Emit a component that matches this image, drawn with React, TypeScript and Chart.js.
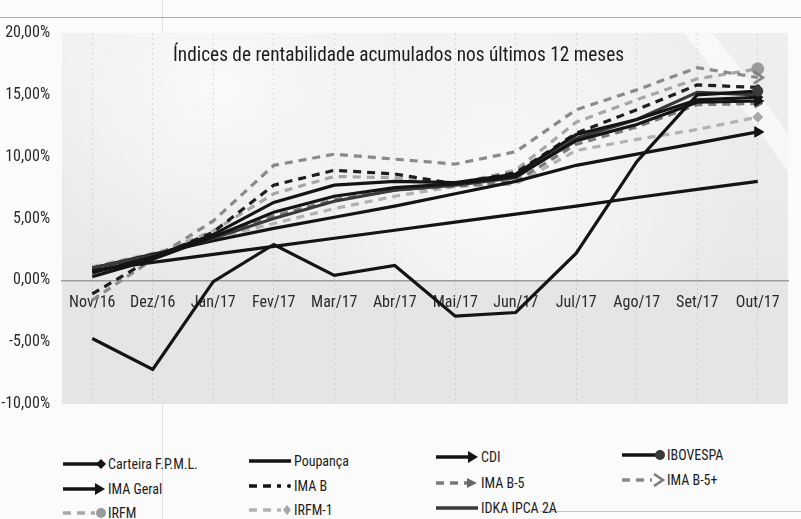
import React, { useEffect, useRef } from 'react';
import { Chart, registerables } from 'chart.js';

Chart.register(...registerables);

// ---------- data ----------
const months = ['Nov/16', 'Dez/16', 'Jan/17', 'Fev/17', 'Mar/17', 'Abr/17', 'Mai/17', 'Jun/17', 'Jul/17', 'Ago/17', 'Set/17', 'Out/17'];
const yTicks = [-10, -5, 0, 5, 10, 15, 20];
const chartTitle = 'Índices de rentabilidade acumulados nos últimos 12 meses';

const carteira = [0.6, 1.9, 3.7, 6.3, 7.7, 8.0, 7.9, 8.6, 11.8, 13.0, 14.6, 14.8];
const poupanca = [0.8, 1.45, 2.1, 2.75, 3.4, 4.05, 4.7, 5.35, 6.0, 6.7, 7.35, 8.0];
const cdi = [1.0, 2.1, 3.2, 4.2, 5.1, 6.0, 7.0, 8.0, 9.3, 10.2, 11.1, 12.0];
const ibovespa = [-4.7, -7.2, -0.1, 2.9, 0.4, 1.2, -2.9, -2.6, 2.2, 9.6, 15.0, 15.3];
const imaGeral = [0.3, 1.7, 3.5, 5.5, 6.8, 7.5, 7.8, 8.4, 11.3, 12.6, 14.4, 14.5];
const imaB = [-1.1, 1.8, 3.9, 7.7, 8.9, 8.6, 7.8, 8.7, 11.9, 13.8, 15.8, 15.6];
const imaB5 = [0.9, 2.0, 3.5, 5.2, 6.5, 7.3, 7.6, 8.0, 11.0, 12.4, 14.2, 14.3];
const imaB5mais = [-1.6, 1.7, 4.8, 9.3, 10.2, 9.8, 9.4, 10.4, 13.8, 15.4, 17.2, 16.4];
const irfm = [0.8, 2.0, 4.0, 7.0, 8.4, 8.3, 7.8, 8.9, 12.8, 14.6, 16.3, 17.1];
const irfm1 = [1.1, 2.2, 3.4, 4.6, 5.8, 6.8, 7.6, 7.8, 10.5, 11.4, 12.2, 13.2];
const idka = [1.0, 2.0, 3.4, 5.0, 6.4, 7.3, 7.7, 8.3, 11.5, 13.0, 15.2, 15.0];

const seriesNames = ['Carteira F.P.M.L.', 'Poupança', 'CDI', 'IBOVESPA', 'IMA Geral', 'IMA B', 'IMA B-5', 'IMA B-5+', 'IRFM', 'IRFM-1', 'IDKA IPCA 2A'];

const FONT = '"Liberation Sans Narrow", "Arial Narrow", "Roboto Condensed", "DejaVu Sans Condensed", Lato, sans-serif';

// ---------- helpers ----------
function chevron(color: string) {
  const c = document.createElement('canvas');
  c.width = 14; c.height = 16;
  const g = c.getContext('2d')!;
  g.strokeStyle = color; g.lineWidth = 2.6; g.lineJoin = 'miter';
  g.beginPath(); g.moveTo(3, 2); g.lineTo(12, 8); g.lineTo(3, 14); g.stroke();
  return c;
}

const lastOnly = (r: number) => months.map((_, i) => (i === months.length - 1 ? r : 0));

function ds(label: string, data: number[], color: string, width: number, dash: number[], style: any, radius: number, rot = 0, markColor = color) {
  return {
    label, data,
    borderColor: color,
    borderWidth: width,
    borderDash: dash,
    backgroundColor: markColor,
    pointBackgroundColor: markColor,
    pointBorderColor: markColor,
    pointBorderWidth: 1,
    pointStyle: style,
    pointRadius: lastOnly(radius),
    pointRotation: rot,
    tension: 0,
    fill: false,
  };
}

const bgPlugin = {
  id: 'bg',
  beforeDraw(chart: any) {
    const { ctx, chartArea: a } = chart;
    const zeroY = chart.scales.y.getPixelForValue(0);
    ctx.save();
    ctx.beginPath();
    ctx.rect(a.left, a.top, a.right - a.left, a.bottom - a.top);
    ctx.clip();
    ctx.fillStyle = '#e5e5e5';
    ctx.fillRect(a.left, a.top, a.right - a.left, a.bottom - a.top);
    // lighter upper part
    const g = ctx.createLinearGradient(0, a.top, 0, zeroY);
    g.addColorStop(0, '#efefef');
    g.addColorStop(1, '#e8e8e8');
    ctx.fillStyle = g;
    ctx.fillRect(a.left, a.top, a.right - a.left, zeroY - a.top);
    // soft white dome (above zero line)
    ctx.save();
    ctx.beginPath();
    ctx.rect(a.left, a.top, a.right - a.left, zeroY - a.top);
    ctx.clip();
    const rg = ctx.createRadialGradient(500, 200, 10, 500, 200, 240);
    rg.addColorStop(0, 'rgba(255,255,255,0.7)');
    rg.addColorStop(1, 'rgba(255,255,255,0)');
    ctx.fillStyle = rg;
    ctx.fillRect(a.left, a.top, a.right - a.left, zeroY - a.top);
    const rg2 = ctx.createRadialGradient(220, 90, 10, 220, 90, 200);
    rg2.addColorStop(0, 'rgba(255,255,255,0.65)');
    rg2.addColorStop(1, 'rgba(255,255,255,0)');
    ctx.fillStyle = rg2;
    ctx.fillRect(a.left, a.top, a.right - a.left, zeroY - a.top);
    ctx.restore();
    // white swoosh at top right
    ctx.strokeStyle = 'rgba(255,255,255,0.6)';
    ctx.lineWidth = 22;
    ctx.beginPath();
    ctx.moveTo(690, a.top - 10);
    ctx.quadraticCurveTo(745, 90, 800, 170);
    ctx.stroke();
    ctx.restore();
  },
  afterDraw(chart: any) {
    const { ctx } = chart;
    ctx.save();
    ctx.font = `21px ${FONT}`;
    ctx.fillStyle = '#1c1c1c';
    ctx.textBaseline = 'alphabetic';
    const w = ctx.measureText(chartTitle).width;
    ctx.translate(173, 61);
    ctx.scale(451 / w, 1);
    ctx.fillText(chartTitle, 0, 0);
    ctx.restore();
  },
};

// ---------- legend samples ----------
function Sample({ kind }: { kind: string }) {
  const W = 44, H = 16, y = 8;
  const black = '#141414';
  switch (kind) {
    case 'Carteira F.P.M.L.':
      return (<svg width={W} height={H}><line x1={0} y1={y} x2={38} y2={y} stroke={black} strokeWidth={3.5} /><polygon points={`38,${y - 5} 43,${y} 38,${y + 5} 33,${y}`} fill={black} /></svg>);
    case 'Poupança':
      return (<svg width={W} height={H}><line x1={0} y1={y} x2={42} y2={y} stroke={black} strokeWidth={3.5} /></svg>);
    case 'IDKA IPCA 2A':
      return (<svg width={W} height={H}><line x1={0} y1={y} x2={42} y2={y} stroke="#3a3a3a" strokeWidth={3.5} /></svg>);
    case 'CDI':
    case 'IMA Geral':
      return (<svg width={W} height={H}><line x1={0} y1={y} x2={34} y2={y} stroke={black} strokeWidth={3.5} /><polygon points={`32,${y - 6} 42,${y} 32,${y + 6}`} fill={black} /></svg>);
    case 'IBOVESPA':
      return (<svg width={W} height={H}><line x1={0} y1={y} x2={36} y2={y} stroke={black} strokeWidth={3.5} /><circle cx={38} cy={y} r={5} fill="#3a3a3a" /></svg>);
    case 'IMA B':
      return (<svg width={W} height={H}><line x1={0} y1={y} x2={32} y2={y} stroke={black} strokeWidth={3.5} strokeDasharray="8 6" /><circle cx={40} cy={y} r={2} fill={black} /></svg>);
    case 'IMA B-5':
      return (<svg width={W} height={H}><line x1={0} y1={y} x2={32} y2={y} stroke="#7a7a7a" strokeWidth={3.5} strokeDasharray="8 6" /><polygon points={`31,${y - 5} 41,${y} 31,${y + 5}`} fill="#6a6a6a" /></svg>);
    case 'IMA B-5+':
      return (<svg width={W} height={H}><line x1={0} y1={y} x2={30} y2={y} stroke="#8a8a8a" strokeWidth={3.5} strokeDasharray="8 6" /><polyline points={`32,${y - 6} 41,${y} 32,${y + 6}`} fill="none" stroke="#7a7a7a" strokeWidth={2.5} /></svg>);
    case 'IRFM':
      return (<svg width={W} height={H}><line x1={0} y1={y} x2={32} y2={y} stroke="#a8a8a8" strokeWidth={3.5} strokeDasharray="8 6" /><circle cx={38} cy={y} r={5} fill="#9a9a9a" /></svg>);
    case 'IRFM-1':
      return (<svg width={W} height={H}><line x1={0} y1={y} x2={32} y2={y} stroke="#b4b4b4" strokeWidth={3.5} strokeDasharray="8 6" /><polygon points={`38,${y - 5} 42,${y} 38,${y + 5} 34,${y}`} fill="#a8a8a8" /></svg>);
    default:
      return null;
  }
}

// legend grid placement (column x, row y) — layout only
const legendLayout: Record<string, [number, number]> = {
  'Carteira F.P.M.L.': [63, 464], 'IMA Geral': [63, 489], 'IRFM': [63, 513],
  'Poupança': [249, 461], 'IMA B': [249, 486], 'IRFM-1': [249, 510],
  'CDI': [436, 457], 'IMA B-5': [436, 483], 'IDKA IPCA 2A': [436, 508],
  'IBOVESPA': [622, 455], 'IMA B-5+': [622, 480],
};

export default function App() {
  const ref = useRef<HTMLCanvasElement | null>(null);

  useEffect(() => {
    if (!ref.current) return;
    const black = '#141414';
    const chart = new Chart(ref.current, {
      type: 'line',
      data: {
        labels: months,
        datasets: [
          ds(seriesNames[3], ibovespa, black, 3.2, [], 'circle', 5, 0, '#3a3a3a'),
          ds(seriesNames[0], carteira, black, 3.2, [], 'rectRot', 5),
          ds(seriesNames[4], imaGeral, black, 3.2, [], 'triangle', 6, 90),
          ds(seriesNames[10], idka, '#3a3a3a', 3.2, [], 'circle', 0),
          ds(seriesNames[2], cdi, black, 3.2, [], 'triangle', 6, 90),
          ds(seriesNames[1], poupanca, black, 3.2, [], 'circle', 0),
          ds(seriesNames[5], imaB, '#1e1e1e', 3.2, [8, 6], 'circle', 2.5),
          ds(seriesNames[6], imaB5, '#7a7a7a', 3.2, [8, 6], 'triangle', 5, 90, '#6a6a6a'),
          ds(seriesNames[7], imaB5mais, '#8a8a8a', 3.2, [8, 6], chevron('#7a7a7a') as any, 7),
          ds(seriesNames[9], irfm1, '#b2b2b2', 3.2, [8, 6], 'rectRot', 5, 0, '#a8a8a8'),
          ds(seriesNames[8], irfm, '#a6a6a6', 3.2, [8, 6], 'circle', 6, 0, '#9a9a9a'),
        ] as any,
      },
      options: {
        responsive: false,
        animation: false,
        layout: { padding: { top: 33, right: 13, bottom: 36, left: 0 } },
        plugins: {
          legend: { display: false },
          tooltip: { enabled: false },
          title: { display: false },
        },
        scales: {
          x: {
            type: 'category',
            offset: true,
            position: { y: 0 } as any,
            grid: { display: true, color: 'rgba(150,150,150,0.3)', drawTicks: false, offset: false, lineWidth: 1 },
            border: { display: true, color: '#9c9c9c', width: 1.5, dash: [2, 3] },
            ticks: { padding: 13, color: '#2a2a2a', font: { family: FONT, size: 16 }, maxRotation: 0, autoSkip: false },
          },
          y: {
            min: yTicks[0],
            max: yTicks[yTicks.length - 1],
            afterBuildTicks: (s: any) => { s.ticks = yTicks.map((v) => ({ value: v })); },
            afterFit: (s: any) => { s.width = 62; },
            grid: { display: false, drawTicks: false },
            border: { display: false },
            ticks: {
              padding: 12,
              color: '#2a2a2a',
              font: { family: FONT, size: 16 },
              callback: (v: any) => Number(v).toFixed(2).replace('.', ',') + '%',
            },
          },
        } as any,
      },
      plugins: [bgPlugin],
    });
    return () => chart.destroy();
  }, []);

  return (
    <div style={{ position: 'fixed', left: 0, top: 0, width: 801, height: 519, background: '#fbfbfb', overflow: 'hidden', fontFamily: FONT }}>
      <div style={{ position: 'absolute', left: 0, top: 17, width: 801, height: 1, background: '#a8a8a8' }} />
      <div style={{ position: 'absolute', left: 162, top: 0, width: 1, height: 519, background: 'rgba(180,180,180,0.35)' }} />
      <div style={{ position: 'absolute', left: 540, top: 511, width: 261, height: 1, background: '#c4c4c4' }} />
      <canvas ref={ref} width={801} height={440} style={{ position: 'absolute', left: 0, top: 0 }} />
      {seriesNames.map((name) => {
        const [x, y] = legendLayout[name];
        return (
          <div key={name} style={{ position: 'absolute', left: x, top: y - 9, height: 18, display: 'flex', alignItems: 'center', whiteSpace: 'nowrap', fontSize: 14, color: '#1c1c1c' }}>
            <Sample kind={name} />
            <span style={{ marginLeft: 1 }}>{name}</span>
          </div>
        );
      })}
    </div>
  );
}
